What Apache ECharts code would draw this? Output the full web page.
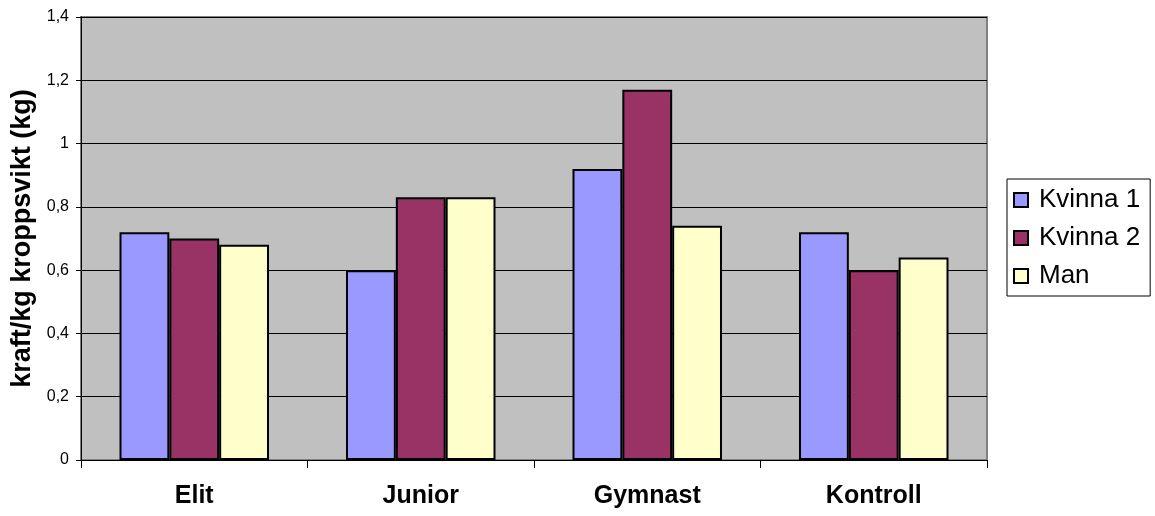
<!DOCTYPE html>
<html>
<head>
<meta charset="utf-8">
<script src="https://cdn.jsdelivr.net/npm/echarts@6/dist/echarts.min.js"></script>
<style>
  html, body { margin: 0; padding: 0; background: #fff; }
  #chart { width: 1155px; height: 516px; }
</style>
</head>
<body>
<div id="chart"></div>
<script>
var categories = ['Elit', 'Junior', 'Gymnast', 'Kontroll'];
var kvinna1 = [0.72, 0.60, 0.92, 0.72];
var kvinna2 = [0.70, 0.83, 1.17, 0.60];
var man = [0.68, 0.83, 0.74, 0.64];

var font = 'Arial, "Liberation Sans", sans-serif';

function barSeries(name, data, color) {
    return {
        name: name,
        type: 'bar',
        data: data,
        barGap: '0%',
        barCategoryGap: '34%',
        itemStyle: { color: color, borderColor: '#000', borderWidth: 2 }
    };
}

var chart = echarts.init(document.getElementById('chart'));
chart.setOption({
    animation: false,
    textStyle: { fontFamily: font },
    grid: {
        left: 81, top: 17, right: 168, bottom: 56,
        show: true, backgroundColor: '#c0c0c0', borderColor: '#808080', borderWidth: 2
    },
    legend: {
        orient: 'vertical',
        left: 1007, top: 179,
        padding: [8, 10, 7, 6],
        borderColor: '#000', borderWidth: 1,
        itemWidth: 14, itemHeight: 14, itemGap: 12,
        icon: 'rect',
        textStyle: { fontSize: 26, color: '#000', fontFamily: font, padding: [0, 0, 0, 6] },
        data: ['Kvinna 1', 'Kvinna 2', 'Man']
    },
    xAxis: {
        type: 'category',
        data: categories,
        axisLine: { lineStyle: { color: '#000', width: 1 } },
        axisTick: { show: true, length: 8, lineStyle: { color: '#000' } },
        axisLabel: { fontSize: 25, fontWeight: 'bold', color: '#000', margin: 24, fontFamily: font }
    },
    yAxis: {
        type: 'value',
        min: 0, max: 1.4, interval: 0.2,
        name: 'kraft/kg kroppsvikt (kg)',
        nameLocation: 'middle',
        nameGap: 45,
        nameTextStyle: { fontSize: 27, fontWeight: 'bold', color: '#000', fontFamily: font },
        axisLine: { show: true, lineStyle: { color: '#000', width: 1 } },
        axisTick: { show: true, length: 5, lineStyle: { color: '#000' } },
        axisLabel: {
            fontSize: 16, color: '#000', margin: 12, fontFamily: font,
            formatter: function (v) { return String(+v.toFixed(1)).replace('.', ','); }
        },
        splitLine: { lineStyle: { color: '#000', width: 1 } }
    },
    series: [
        barSeries('Kvinna 1', kvinna1, '#9999ff'),
        barSeries('Kvinna 2', kvinna2, '#993366'),
        barSeries('Man', man, '#ffffcc')
    ]
});
</script>
</body>
</html>
